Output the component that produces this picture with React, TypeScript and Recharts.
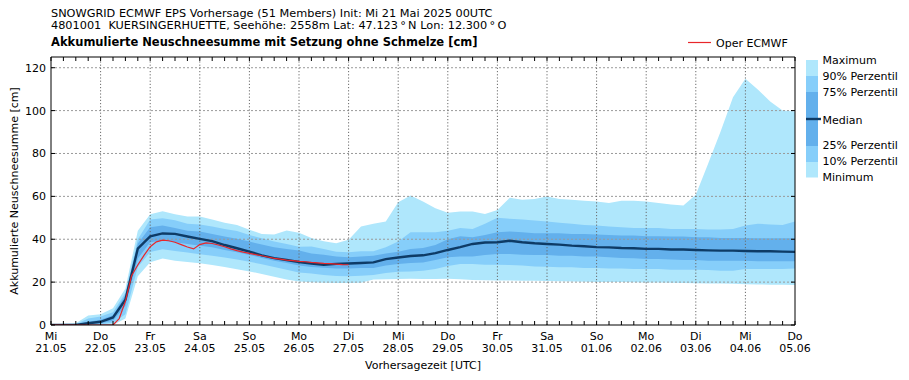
import React from 'react';
import { ComposedChart, Area, Line, XAxis, YAxis } from 'recharts';

// forecast hours since Mi 21.05 00UTC (6-hourly ensemble output)
const hours = [0, 6, 12, 18, 24, 30, 36, 42, 48, 54, 60, 66, 72, 78, 84, 90, 96, 102, 108, 114, 120, 126, 132, 138, 144, 150, 156, 162, 168, 174, 180, 186, 192, 198, 204, 210, 216, 222, 228, 234, 240, 246, 252, 258, 264, 270, 276, 282, 288, 294, 300, 306, 312, 318, 324, 330, 336, 342, 348, 354, 360];

const maxSnow = [0.3, 0.6, 0.8, 4.4, 5, 7.8, 17, 44, 51.6, 53.1, 51.6, 50.6, 50.6, 49.2, 47.7, 46.7, 44.4, 42.5, 42.2, 44.1, 43, 40.6, 39.1, 38.1, 39.8, 45.9, 47.2, 48.3, 57.3, 60.4, 57.6, 54.4, 52.3, 52.9, 52.9, 51.8, 53.6, 59.3, 58.4, 58.8, 59.9, 58.8, 58.4, 58, 57.6, 56.9, 58, 58, 57.6, 56.9, 56.2, 55.7, 60.7, 75.3, 90.2, 106.2, 114.8, 109.8, 104.3, 100, 99.6];
const p90Snow = [0, 0.2, 0.4, 3, 4, 6, 15, 40, 49.2, 49.8, 48.8, 47.2, 46.9, 45.9, 44.8, 43.8, 42, 40.5, 38.9, 37.8, 36.5, 36.6, 35.5, 34.2, 33.9, 34.4, 34.4, 36.3, 38.9, 43.3, 43.3, 43.3, 44, 45.3, 44.8, 47.2, 50, 49.5, 49.2, 48.75, 48.3, 47.7, 47.2, 46.7, 46.4, 45.9, 45.6, 45.3, 45.2, 45.2, 44.8, 44.8, 44.8, 44.5, 44.5, 44.8, 46.4, 47.2, 46.9, 46.7, 48.3];
const p75Snow = [0, 0, 0.2, 1.5, 2.5, 4.5, 14, 38, 45.6, 46.4, 45.2, 44, 43.6, 42.5, 41.3, 40.2, 38.9, 37.5, 36.3, 35.5, 34.7, 33.4, 32.8, 31.9, 31.6, 31.9, 32.3, 33.4, 34.2, 35.5, 35.9, 37.3, 40, 41.4, 40.9, 42, 43.3, 43.6, 43.3, 42.8, 42.8, 42.8, 42.5, 42.5, 42.2, 42, 41.7, 41.7, 41.4, 41.4, 41.25, 41.25, 40.9, 40.9, 40.6, 40.6, 40.6, 40.5, 40.5, 40.5, 40.5];
const medianSnow = [0, 0, 0, 0.8, 1.5, 3.5, 11.8, 35.6, 41.3, 42.7, 42.5, 41.3, 40.2, 39.1, 37.3, 35.8, 34.2, 32.5, 31.2, 30.3, 29.4, 28.7, 28.1, 28.5, 28.7, 28.9, 29.2, 30.7, 31.5, 32.2, 32.5, 33.5, 35, 36.3, 37.8, 38.5, 38.6, 39.3, 38.6, 38.1, 37.8, 37.5, 37, 36.7, 36.3, 36.2, 35.9, 35.8, 35.5, 35.5, 35.2, 35.2, 35, 34.8, 34.7, 34.7, 34.5, 34.4, 34.4, 34.2, 34.1];
const p25Snow = [0, 0, 0, 0.3, 0.8, 2, 9, 31, 38.6, 39.4, 38.6, 37.8, 37, 36.3, 35, 33.9, 32.7, 31.3, 30, 28.9, 27.8, 27.1, 26.7, 26.4, 26.4, 26.6, 26.6, 27.7, 28.4, 28.9, 29.2, 30.3, 31.6, 32, 32, 32.7, 33.1, 33.1, 32.8, 32.7, 32.7, 32.3, 32.3, 32, 31.9, 31.6, 31.25, 31.1, 30.8, 30.8, 30.5, 30.3, 30.3, 30, 30, 30, 30, 29.7, 29.7, 29.7, 29.7];
const p10Snow = [0, 0, 0, 0, 0.3, 1, 5, 27, 34, 35.3, 34.5, 33.8, 33, 32.3, 31.5, 30.5, 29.5, 28.3, 27, 25.8, 24.5, 24, 23.3, 22.8, 22.7, 23, 23.3, 24.2, 24.8, 25, 25.3, 26.1, 27.5, 28.4, 28.4, 28.1, 28.1, 28, 27.7, 27.3, 27.2, 26.9, 26.9, 26.6, 26.6, 26.4, 26.4, 26.1, 26.1, 26.1, 25.8, 25.8, 25.8, 25.6, 25.3, 25.3, 26.1, 26.1, 26.1, 26.1, 26.4];
const minSnow = [0, 0, 0, 0, 0, 0, 3, 22.7, 29.3, 31, 30, 29.4, 28.8, 28, 27, 26, 25, 23.8, 22.5, 21.2, 20.3, 19.9, 19.7, 19.6, 19.6, 19.7, 21.2, 21.3, 21.5, 21.6, 21.5, 21.5, 21.6, 21.3, 21, 20.9, 20.8, 20.7, 20.6, 20.6, 20.5, 20.4, 20.3, 20.2, 20.1, 20, 20, 19.9, 19.8, 19.8, 19.7, 19.6, 19.5, 19.4, 19.3, 19.2, 19, 18.9, 18.8, 18.8, 18.7];

// deterministic run (Oper ECMWF), 3-hourly after onset
const operHours = [0, 6, 12, 18, 24, 30, 33, 36, 39, 42, 45, 48, 51, 54, 57, 60, 63, 66, 69, 72, 75, 78, 81, 84, 87, 90, 93, 96, 99, 102, 105, 108, 111, 114, 117, 120, 123, 126, 129, 132, 135, 138, 141, 144];
const operSnow = [0, 0, 0, 0, 0, 0, 3, 11, 23, 28, 32.5, 36.5, 38.8, 39.6, 39.3, 38.6, 37.5, 36.4, 35.5, 37.5, 38.3, 38, 37.3, 36.5, 35.5, 34.7, 34, 33.4, 32.8, 32.3, 31.7, 31.1, 30.7, 30.3, 30, 29.7, 29.5, 29.2, 29, 28.75, 28.6, 28.4, 28.2, 28.1];

const dayNames = ['Mi', 'Do', 'Fr', 'Sa', 'So', 'Mo', 'Di', 'Mi', 'Do', 'Fr', 'Sa', 'So', 'Mo', 'Di', 'Mi', 'Do'];
const dayDates = ['21.05', '22.05', '23.05', '24.05', '25.05', '26.05', '27.05', '28.05', '29.05', '30.05', '31.05', '01.06', '02.06', '03.06', '04.06', '05.06'];
const dayGridHours = [24, 48, 72, 96, 120, 144, 168, 192, 216, 240, 264, 288, 312, 336];
const yTicks = [0, 20, 40, 60, 80, 100, 120];
const yGrid = [20, 40, 60, 80, 100, 120];
const X_DOMAIN: [number, number] = [0, 360];
const Y_DOMAIN: [number, number] = [0, 125];

const ensembleData = hours.map((h, i) => ({
  h,
  max: maxSnow[i],
  p90: p90Snow[i],
  p75: p75Snow[i],
  median: medianSnow[i],
  p25: p25Snow[i],
  p10: p10Snow[i],
  min: minSnow[i],
}));
const operData = operHours.map((h, i) => ({ h, oper: operSnow[i] }));
// grid lines drawn as two-point series so they sit above the bands, like the original
const hGridData = yGrid.map((v) => [{ h: X_DOMAIN[0], g: v }, { h: X_DOMAIN[1], g: v }]);
const vGridData = dayGridHours.map((h) => [{ h, g: Y_DOMAIN[0] }, { h, g: Y_DOMAIN[1] }]);

const FONT = 'DejaVu Sans';
const C_LIGHT = '#afe7fc';
const C_MED = '#86cefa';
const C_DARK = '#63b0ec';
const C_MEDIAN = '#0e3b66';
const C_RED = '#e8262a';

const CHART_W = 909;
const CHART_H = 380;
const MARGIN = { top: 47, right: 104, bottom: 25, left: 21 };

const BottomTick = (props: any) => {
  const { x, y, payload } = props;
  const v = payload.value as number;
  const major = v % 24 === 0;
  const di = Math.round(v / 24);
  return (
    <g>
      <line x1={x} y1={y} x2={x} y2={y - 4} stroke="#000" strokeWidth={1} />
      {major && (
        <text x={x} y={y + 15} textAnchor="middle" fontSize={11} fontFamily={FONT} fill="#000">{dayNames[di]}</text>
      )}
      {major && (
        <text x={x} y={y + 27} textAnchor="middle" fontSize={11} fontFamily={FONT} fill="#000">{dayDates[di]}</text>
      )}
    </g>
  );
};

const TopTick = (props: any) => {
  const { x, y } = props;
  return <line x1={x} y1={y} x2={x} y2={y + 4} stroke="#000" strokeWidth={1} />;
};

const LeftTick = (props: any) => {
  const { x, y, payload } = props;
  return (
    <g>
      <line x1={x} y1={y} x2={x + 4} y2={y} stroke="#000" strokeWidth={1} />
      <text x={x - 5} y={y + 4} textAnchor="end" fontSize={11} fontFamily={FONT} fill="#000">{payload.value}</text>
    </g>
  );
};

const RightTick = (props: any) => {
  const { x, y } = props;
  return <line x1={x} y1={y} x2={x - 4} y2={y} stroke="#000" strokeWidth={1} />;
};

export default function App() {
  return (
    <div style={{ position: 'absolute', left: 0, top: 0, width: CHART_W, height: CHART_H, background: '#fff' }}>
      <ComposedChart width={CHART_W} height={CHART_H} data={ensembleData} margin={MARGIN}>
        <XAxis
          xAxisId="b"
          dataKey="h"
          type="number"
          domain={X_DOMAIN}
          ticks={hours}
          interval={0}
          height={30}
          tickSize={0}
          tickMargin={0}
          tickLine={false}
          tick={BottomTick}
          axisLine={{ stroke: '#000', strokeWidth: 1 }}
          allowDataOverflow
        />
        <XAxis
          xAxisId="t"
          orientation="top"
          dataKey="h"
          type="number"
          domain={X_DOMAIN}
          ticks={hours}
          interval={0}
          height={10}
          tickSize={0}
          tickMargin={0}
          tickLine={false}
          tick={TopTick}
          axisLine={{ stroke: '#000', strokeWidth: 1 }}
          allowDataOverflow
        />
        <YAxis
          yAxisId="l"
          type="number"
          domain={Y_DOMAIN}
          ticks={yTicks}
          interval={0}
          width={30}
          tickSize={0}
          tickMargin={0}
          tickLine={false}
          tick={LeftTick}
          axisLine={{ stroke: '#000', strokeWidth: 1 }}
          allowDataOverflow
        />
        <YAxis
          yAxisId="r"
          orientation="right"
          type="number"
          domain={Y_DOMAIN}
          ticks={yTicks}
          interval={0}
          width={10}
          tickSize={0}
          tickMargin={0}
          tickLine={false}
          tick={RightTick}
          axisLine={{ stroke: '#000', strokeWidth: 1 }}
          allowDataOverflow
        />
        <Area xAxisId="b" yAxisId="l" type="linear" dataKey={(d: any) => [d.min, d.max]} stroke="none" fill={C_LIGHT} fillOpacity={1} isAnimationActive={false} activeDot={false} />
        <Area xAxisId="b" yAxisId="l" type="linear" dataKey={(d: any) => [d.p10, d.p90]} stroke="none" fill={C_MED} fillOpacity={1} isAnimationActive={false} activeDot={false} />
        <Area xAxisId="b" yAxisId="l" type="linear" dataKey={(d: any) => [d.p25, d.p75]} stroke="none" fill={C_DARK} fillOpacity={1} isAnimationActive={false} activeDot={false} />
        {hGridData.map((d, i) => (
          <Line key={'gy' + i} xAxisId="b" yAxisId="l" type="linear" data={d} dataKey="g" stroke="#9a9a9a" strokeWidth={1} strokeDasharray="2 2" dot={false} activeDot={false} isAnimationActive={false} legendType="none" />
        ))}
        {vGridData.map((d, i) => (
          <Line key={'gx' + i} xAxisId="b" yAxisId="l" type="linear" data={d} dataKey="g" stroke="#6a6a6a" strokeWidth={1} strokeDasharray="1.2 2" dot={false} activeDot={false} isAnimationActive={false} legendType="none" />
        ))}
        <Line xAxisId="b" yAxisId="l" type="linear" dataKey="median" stroke={C_MEDIAN} strokeWidth={2.4} dot={false} activeDot={false} isAnimationActive={false} />
        <Line xAxisId="b" yAxisId="l" type="linear" data={operData} dataKey="oper" stroke={C_RED} strokeWidth={1.2} dot={false} activeDot={false} isAnimationActive={false} />
        <Line xAxisId="t" yAxisId="r" type="linear" dataKey="median" stroke="none" strokeWidth={0} dot={false} activeDot={false} isAnimationActive={false} legendType="none" />
      </ComposedChart>
      <svg width={CHART_W} height={CHART_H} style={{ position: 'absolute', left: 0, top: 0, pointerEvents: 'none' }} fontFamily={FONT}>
        <text x={51} y={16.5} fontSize={11.3} fill="#000">SNOWGRID ECMWF EPS Vorhersage (51 Members) Init: Mi 21 Mai 2025 00UTC</text>
        <text x={51} y={29} fontSize={11.3} fill="#000" style={{ whiteSpace: 'pre' }}>{'4801001  KUERSINGERHUETTE, Seehöhe: 2558m Lat: 47.123\u2009°\u2009N Lon: 12.300\u2009°\u2009O'}</text>
        <text x={51} y={46} fontSize={11.5} fontWeight="bold" fill="#000">Akkumulierte Neuschneesumme mit Setzung ohne Schmelze [cm]</text>
        <line x1={688} y1={42.5} x2={711} y2={42.5} stroke={C_RED} strokeWidth={1.2} />
        <text x={716} y={47} fontSize={11} fill="#000">Oper ECMWF</text>
        <rect x={806} y={60} width={12} height={16} fill={C_LIGHT} />
        <rect x={806} y={76} width={12} height={16} fill={C_MED} />
        <rect x={806} y={92} width={12} height={54} fill={C_DARK} />
        <rect x={806} y={146} width={12} height={16} fill={C_MED} />
        <rect x={806} y={162} width={12} height={15.5} fill={C_LIGHT} />
        <line x1={806} y1={119} x2={821} y2={119} stroke={C_MEDIAN} strokeWidth={2.4} />
        <text x={822.5} y={64} fontSize={11} fill="#000">Maximum</text>
        <text x={822.5} y={80} fontSize={11} fill="#000">90% Perzentil</text>
        <text x={822.5} y={96} fontSize={11} fill="#000">75% Perzentil</text>
        <text x={822.5} y={124} fontSize={11} fill="#000">Median</text>
        <text x={822.5} y={149} fontSize={11} fill="#000">25% Perzentil</text>
        <text x={822.5} y={165} fontSize={11} fill="#000">10% Perzentil</text>
        <text x={822.5} y={181} fontSize={11} fill="#000">Minimum</text>
        <text x={423} y={369} fontSize={11} textAnchor="middle" fill="#000">Vorhersagezeit [UTC]</text>
        <text x={18} y={191} fontSize={11} textAnchor="middle" fill="#000" transform="rotate(-90 18 191)">Akkumulierte Neuschneesumme [cm]</text>
      </svg>
    </div>
  );
}
